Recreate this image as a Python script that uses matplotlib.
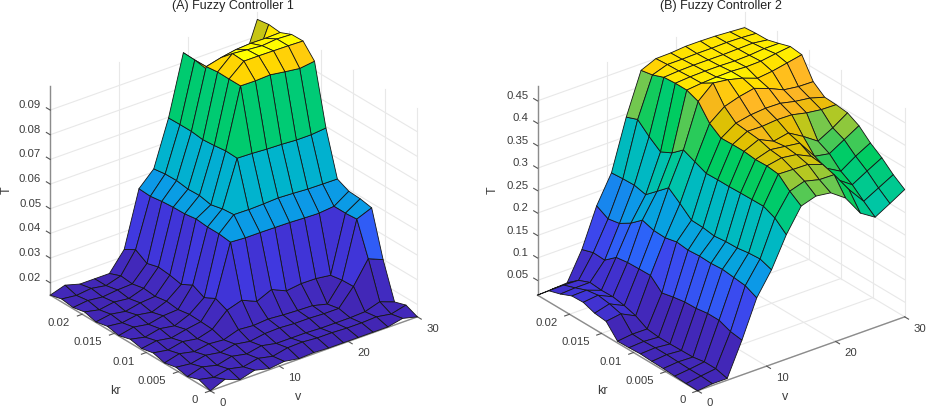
import numpy as np
import matplotlib
matplotlib.use('Agg')
import matplotlib.pyplot as plt
from matplotlib.colors import LinearSegmentedColormap
from mpl_toolkits.mplot3d import proj3d

plt.rcParams['font.family'] = ['Liberation Sans', 'DejaVu Sans']

v_values = np.linspace(0, 30, 15)
kr_values = np.linspace(0, 0.025, 15)

v_ticks = [0, 10, 20, 30]
kr_ticks = [0, 0.005, 0.01, 0.015, 0.02]
kr_labels = ['0', '0.005', '0.01', '0.015', '0.02']
t_ticks_a = [0.02, 0.03, 0.04, 0.05, 0.06, 0.07, 0.08, 0.09]
t_labels_a = ['0.02', '0.03', '0.04', '0.05', '0.06', '0.07', '0.08', '0.09']
t_ticks_b = [0.05, 0.1, 0.15, 0.2, 0.25, 0.3, 0.35, 0.4, 0.45]
t_labels_b = ['0.05', '0.1', '0.15', '0.2', '0.25', '0.3', '0.35', '0.4', '0.45']

# rows = v index, columns = kr index
T_a = [
    [.015, .0168, .0152, .0162, .0152, .0165, .0155, .0165, .0152, .0162, .0152, .0165, .0155, .0162, .015],
    [.0175, .0155, .017, .0155, .0168, .0155, .0165, .0152, .0165, .0155, .0162, .0152, .0162, .0155, .0169],
    [.0152, .0168, .0155, .0168, .0155, .0168, .0155, .0165, .0155, .0165, .0152, .0162, .0155, .0162, .0152],
    [.0169, .0155, .017, .0158, .0165, .0158, .0168, .0155, .0168, .0155, .0165, .0155, .0162, .0152, .0152],
    [.0154, .0168, .0158, .017, .016, .0175, .0178, .018, .0172, .0178, .017, .0175, .0165, .017, .0152],
    [.0162, .0155, .017, .016, .018, .0231, .0251, .0227, .025, .0225, .0235, .024, .0227, .0255, .0228],
    [.0152, .0168, .0158, .017, .0175, .025, .0458, .0464, .0464, .0469, .0462, .0461, .0457, .045, .0453],
    [.0155, .017, .0158, .0172, .018, .0224, .0454, .052, .0516, .0505, .0515, .0513, .052, .0519, .0512],
    [.0152, .0165, .0158, .0168, .0175, .0251, .0454, .0519, .07, .0702, .0696, .0692, .0698, .0698, .0697],
    [.0152, .0165, .0155, .0168, .0172, .0224, .0453, .0521, .0698, .0944, .0944, .0945, .0939, .0938, .094],
    [.0152, .0162, .0155, .0165, .017, .0232, .0452, .0524, .0694, .0943, .0995, .0998, .0954, .087, .082],
    [.0152, .0162, .0155, .0165, .0155, .0231, .0449, .0521, .0692, .0946, .0995, .0992, .0965, .087, .083],
    [.0152, .0165, .0158, .0233, .0231, .0223, .0447, .0517, .0688, .0937, .0994, .0987, .0969, .088, .083],
    [.0165, .0155, .0177, .0324, .0457, .0453, .0453, .0516, .0688, .0929, .0993, .0993, .0968, .083, .0804],
    [.015, .017, .0155, .0299, .0481, .049, .0493, .0515, .0694, .0937, .0991, .099, .097, .0975, .0968],
]

T_b = [
    [.0172, .018, .0194, .021, .0217, .0232, .0217, .021, .05, .053, .062, .061, .05, .042, .0172],
    [.021, .023, .023, .024, .025, .025, .024, .025, .055, .062, .066, .062, .052, .043, .019],
    [.021, .0276, .0276, .023, .0224, .0217, .0217, .0247, .0388, .0463, .0508, .05, .0523, .0418, .021],
    [.0948, .0987, .1087, .1087, .1047, .1037, .0993, .0934, .1172, .1166, .1156, .1117, .0904, .0918, .0836],
    [.1773, .1892, .1922, .1952, .1932, .1942, .1922, .1952, .1892, .1902, .1982, .1763, .1604, .1554, .1693],
    [.228, .2369, .2349, .2309, .23, .227, .2309, .2319, .2538, .2737, .2508, .228, .2339, .2329, .2309],
    [.2945, .3164, .3274, .327, .3264, .3254, .3254, .3244, .3353, .3463, .3244, .3115, .3304, .3532, .3433],
    [.3463, .3641, .387, .39, .389, .392, .392, .391, .4089, .4427, .4526, .4526, .4506, .4407, .4357],
    [.3568, .3747, .3858, .3963, .3993, .4068, .4097, .4127, .4344, .4717, .456, .455, .453, .452, .45],
    [.3523, .3664, .3851, .3918, .3948, .3911, .409, .4194, .4448, .4672, .458, .456, .454, .452, .4508],
    [.3291, .3657, .3732, .3762, .3903, .3978, .412, .4224, .4515, .459, .459, .456, .454, .453, .4538],
    [.2836, .3209, .3276, .3381, .3493, .3784, .4112, .4217, .4396, .447, .457, .455, .454, .453, .4538],
    [.2627, .2829, .3045, .3194, .3433, .356, .4038, .4142, .4247, .4508, .458, .456, .455, .454, .453],
    [.2814, .3008, .3232, .3411, .3627, .3739, .3993, .4097, .4202, .4575, .463, .459, .456, .453, .4508],
    [.3008, .3187, .3411, .359, .3821, .3956, .3985, .4, .4194, .4642, .4672, .459, .4515, .4508, .4485],
]

# parula-like map, tuned to the saturated colours of the picture
surf_cmap = LinearSegmentedColormap.from_list('surf', [
    (0.00, '#4226B4'), (0.12, '#4038E0'), (0.18, '#3A4CF0'), (0.22, '#2A66FA'), (0.36, '#0A9CE6'),
    (0.44, '#00B4CC'), (0.55, '#00C8A0'), (0.68, '#00CC60'), (0.74, '#70C850'),
    (0.79, '#B8C820'), (0.83, '#E4C000'), (0.88, '#FFB428'), (0.94, '#FFD700'),
    (1.00, '#FFFF00')])

W, H = 927, 408
GRID = '#e8e8e8'
AXIS = '#8c8c8c'
TXT = '#3c3c3c'


def draw_panel(left, bottom, size, T, t_lim, t_ticks, t_labels):
    # axes larger than the figure, otherwise the surface gets clipped at the axes box
    ax = fig.add_axes([left / W, bottom / H, size / W, size / H], projection='3d',
                      computed_zorder=False)
    ax.patch.set_visible(False)
    ax.set_proj_type('ortho')
    ax.view_init(elev=27.5, azim=-127.7)
    ax.set_box_aspect((1, 1, 0.9), zoom=0.71)
    ax.set_axis_off()
    ax.set_xlim(0, 30)
    ax.set_ylim(0, 0.025)
    ax.set_zlim(*t_lim)

    # grid on the two back walls and the floor
    for t in t_ticks:
        ax.plot([0, 30], [0.025, 0.025], [t, t], color=GRID, lw=0.8, zorder=1)
        ax.plot([30, 30], [0, 0.025], [t, t], color=GRID, lw=0.8, zorder=1)
    for v in v_ticks:
        ax.plot([v, v], [0.025, 0.025], t_lim, color=GRID, lw=0.8, zorder=1)
        ax.plot([v, v], [0, 0.025], [t_lim[0]] * 2, color=GRID, lw=0.8, zorder=1)
    for k in kr_ticks:
        ax.plot([30, 30], [k, k], t_lim, color=GRID, lw=0.8, zorder=1)
        ax.plot([0, 30], [k, k], [t_lim[0]] * 2, color=GRID, lw=0.8, zorder=1)

    # axis lines and ticks
    ax.plot([0, 30], [0, 0], [t_lim[0]] * 2, color=AXIS, lw=1.0, zorder=1)
    ax.plot([0, 0], [0, 0.025], [t_lim[0]] * 2, color=AXIS, lw=1.0, zorder=1)
    ax.plot([0, 0], [0.025, 0.025], t_lim, color=AXIS, lw=1.0, zorder=1)
    for v in v_ticks:
        ax.plot([v, v], [0, -0.0006], [t_lim[0]] * 2, color='#555555', lw=0.8, zorder=1)
    for k in kr_ticks:
        ax.plot([0, -0.7], [k, k], [t_lim[0]] * 2, color='#555555', lw=0.8, zorder=1)
    for t in t_ticks:
        ax.plot([0, 0], [0.025, 0.0256], [t, t], color='#555555', lw=0.8, zorder=1)

    # surface, face colour comes from the lowest index corner like MATLAB
    V, K = np.meshgrid(v_values, kr_values, indexing='ij')
    Z = np.array(T)
    colors = surf_cmap((Z - Z.min()) / (Z.max() - Z.min()))
    ax.plot_surface(V, K, Z, rstride=1, cstride=1, facecolors=colors, shade=False,
                    edgecolor='#151515', linewidth=0.6, antialiased=True, zorder=2)

    M = ax.get_proj()

    def label(x, y, z, s, dx, dy, ha):
        xp, yp, _ = proj3d.proj_transform(x, y, z, M)
        ax.annotate(s, (xp, yp), xytext=(dx, dy), textcoords='offset pixels', ha=ha,
                    va='center', fontsize=8.2, color=TXT, annotation_clip=False, zorder=3)

    for v in v_ticks:
        label(v, 0, t_lim[0], str(v), 9, -12, 'left')
    for k, s in zip(kr_ticks, kr_labels):
        label(0, k, t_lim[0], s, -12, -9, 'right')
    for t, s in zip(t_ticks, t_labels):
        label(0, 0.025, t, s, -9, 5, 'right')
    return ax


fig = plt.figure(figsize=(W / 100, H / 100), dpi=100)

draw_panel(-74.3, -101.6, 600, T_a, (0.015, 0.0997), t_ticks_a, t_labels_a)
draw_panel(413, -101.6, 600, T_b, (0.0172, 0.4828), t_ticks_b, t_labels_b)

fig.text(233 / W, 1 - 6 / H, '(A) Fuzzy Controller 1', ha='center', va='center', fontsize=9, color='#222222')
fig.text(721 / W, 1 - 6 / H, '(B) Fuzzy Controller 2', ha='center', va='center', fontsize=9, color='#222222')

fig.text(7 / W, 1 - 190 / H, 'T', rotation=90, ha='center', va='center', fontsize=9, color=TXT)
fig.text(115 / W, 1 - 391 / H, 'kr', ha='center', va='center', fontsize=9, color=TXT)
fig.text(298 / W, 1 - 397 / H, 'v', ha='center', va='center', fontsize=9, color=TXT)
fig.text(493 / W, 1 - 190 / H, 'T', rotation=90, ha='center', va='center', fontsize=9, color=TXT)
fig.text(602 / W, 1 - 391 / H, 'kr', ha='center', va='center', fontsize=9, color=TXT)
fig.text(785 / W, 1 - 397 / H, 'v', ha='center', va='center', fontsize=9, color=TXT)

fig.savefig('out.png', dpi=100)
